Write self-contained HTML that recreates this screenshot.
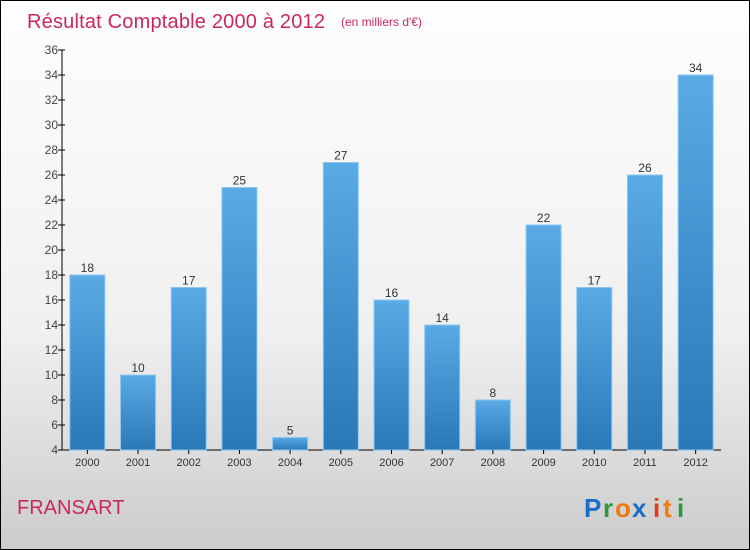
<!DOCTYPE html>
<html><head><meta charset="utf-8"><style>
body{margin:0;}
#wrap{width:748px;height:548px;border:1px solid #000;background:linear-gradient(#fefefe,#f0f0f0 60%,#cccccc);position:relative;overflow:hidden;font-family:"Liberation Sans",sans-serif;}
</style></head><body>
<div id="wrap">
<svg id="chart" width="748" height="548">
<defs><linearGradient id="bg" x1="0" y1="0" x2="0" y2="1"><stop offset="0" stop-color="#5aaae6"/><stop offset="1" stop-color="#2a78b6"/></linearGradient></defs>
<text x="26" y="27" font-size="20" fill="#c8285a" textLength="298">Résultat Comptable 2000 à 2012</text>
<text x="340" y="25" font-size="12" fill="#c8285a">(en milliers d'€)</text>
<text x="16" y="513" font-size="20" fill="#c8285a">FRANSART</text>
<g font-size="26" font-weight="bold">
<text x="583" y="516" fill="#1a6ec8">P</text><text x="602" y="516" fill="#2a9a3a">r</text><text x="614" y="516" fill="#f07a10">o</text><text x="631" y="516" fill="#1a6ec8">x</text><text x="652" y="516" fill="#e03a1a">i</text><text x="662" y="516" fill="#f07a10">t</text><text x="676" y="516" fill="#2a9a3a">i</text>
</g>
</svg>
</div>
<script>
const categories=["2000","2001","2002","2003","2004","2005","2006","2007","2008","2009","2010","2011","2012"];
const values=[18,10,17,25,5,27,16,14,8,22,17,26,34];
const yTicks=[4,6,8,10,12,14,16,18,20,22,24,26,28,30,32,34,36];
const svg=document.getElementById('chart');
const NS='http://www.w3.org/2000/svg';
const x0=61,x1=720,yMin=4,yMax=36,py0=449,py1=49;
const y=v=>py0-(v-yMin)/(yMax-yMin)*(py0-py1);
const step=(x1-x0)/categories.length;
const xc=i=>x0+step*(i+0.5);
function mk(t,a){const e=document.createElementNS(NS,t);for(const k in a)e.setAttribute(k,a[k]);svg.appendChild(e);return e;}
const ax=mk('line',{x1:x0,y1:py1,x2:x0,y2:py0,stroke:'#000'});


const bx=mk('line',{x1:x0,y1:py0,x2:x1,y2:py0,stroke:'#000'});


yTicks.forEach(v=>{
 const t=mk('line',{x1:x0-4,y1:y(v),x2:x0+3,y2:y(v),stroke:'#000'});
 
 
 const l=mk('text',{x:x0-4,y:y(v)+4,'font-size':12,fill:'#444','text-anchor':'end'});
 l.textContent=v;
 
 
});
values.forEach((v,i)=>{
 const w=35;
 const r=mk('rect',{x:xc(i)-w/2,y:y(v),width:w,height:py0-y(v),fill:'url(#bg)',stroke:'#8cc6f0','stroke-width':1});
 
 
 const t=mk('text',{x:xc(i),y:y(v)-3,'font-size':12,fill:'#333','text-anchor':'middle'});
 t.textContent=v;
 
 
 const c=mk('text',{x:xc(i),y:py0+16,'font-size':11,fill:'#333','text-anchor':'middle'});
 c.textContent=categories[i];
 
 
 const tk=mk('line',{x1:xc(i),y1:py0,x2:xc(i),y2:py0+4,stroke:'#000'});
 
 
});
</script>
</body></html>
